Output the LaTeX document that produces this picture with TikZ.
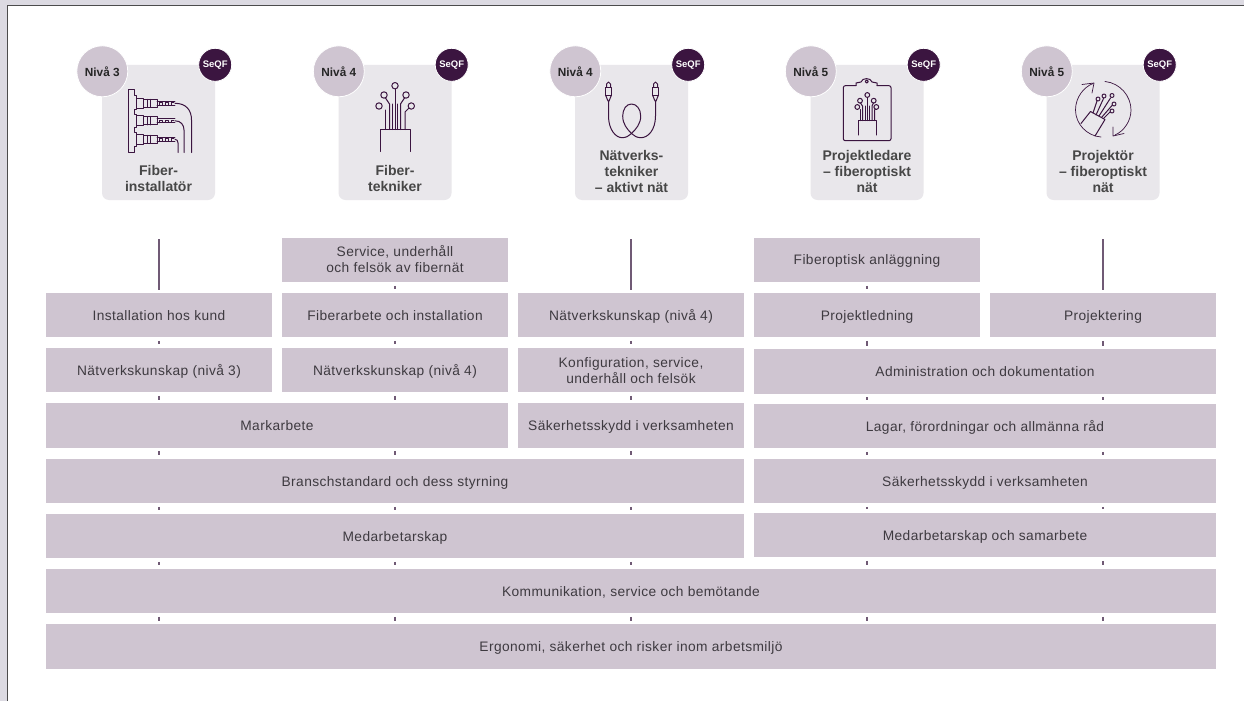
\documentclass[tikz,border=0pt]{standalone}
\usepackage{fontspec}
\setmainfont{Liberation Sans}
\newfontfamily\boxfont[LetterSpace=3.0]{Liberation Sans}
\usetikzlibrary{calc}
\definecolor{pagegrey}{HTML}{DCDAE2}
\definecolor{mauve}{HTML}{CFC5D1}
\definecolor{cardgrey}{HTML}{E9E7EB}
\definecolor{plum}{HTML}{3B1540}
\definecolor{tickplum}{HTML}{705A75}
\definecolor{inktext}{HTML}{3E3A40}
\tikzset{
	course/.style={fill=mauve, inner sep=0, minimum height=44.5pt, minimum width=226pt, align=center, text=inktext,
		text height=12.8pt, text depth=2.8pt, font=\boxfont\fontsize{13.75}{16}\selectfont},
	double/.style={text height=28.8pt, text depth=2.8pt},
	wide/.style={course, minimum width=462pt},
	full/.style={course, minimum width=1170pt},
	card/.style={fill=cardgrey, rounded corners=7pt, minimum width=113pt, minimum height=135pt, inner sep=0},
	cardtext/.style={anchor=south, align=center, inner sep=0, text=black!72, font=\bfseries\fontsize{14}{16}\selectfont},
	level/.style={circle, fill=mauve, draw=white, line width=0.8pt, minimum size=51pt, inner sep=0, text=black!85,
		font=\bfseries\fontsize{11.8}{13}\selectfont},
	seqf/.style={circle, fill=plum, draw=white, line width=0.8pt, minimum size=33pt, inner sep=0, text=white,
		font=\bfseries\fontsize{9.5}{11}\selectfont},
	tick/.style={draw=tickplum, line width=1.1pt, shorten <=3.5pt, shorten >=3.5pt},
	icon/.style={draw=plum, line width=1pt, line cap=round, line join=round},
}
\def\fibertip(#1,#2){\draw[icon] (#1, #2) circle (3.2pt);}
\def\plug(#1,#2){\draw[icon] (#1, #2) rectangle (#1+7, #2+10);
	\draw[icon] (#1+7, #2+1) rectangle (#1+21, #2+9);
	\draw[icon] (#1+11, #2+1) -- (#1+11, #2+9) (#1+14, #2+1) -- (#1+14, #2+9);
	\draw[icon, line width=0.8pt] (#1+21, #2+3) -- (#1+39, #2+3) (#1+21, #2+7) -- (#1+39, #2+7)
		(#1+23, #2+7) -- (#1+23, #2+4.5) -- (#1+26, #2+4.5) -- (#1+26, #2+7) -- (#1+29, #2+7) -- (#1+29, #2+4.5) -- (#1+32, #2+4.5) -- (#1+32, #2+7) -- (#1+35, #2+7) -- (#1+35, #2+4.5) -- (#1+38, #2+4.5);}

\begin{document}
\begin{tikzpicture}[x=1pt, y=-1pt]
	\useasboundingbox (0, 0) rectangle (1244, 701);
	%%%%% PAGE %%%%%
	\fill[pagegrey] (0, 0) rectangle (1244, 701);
	\fill[white] (7, 6) rectangle (1244, 701);
	\draw[black!70, line width=1pt] (7, 701) -- (7, 5.5) -- (1244, 5.5);

	%%%%% CARDS %%%%%
	\node[card] (cardA) at (158.5, 132.5) {};
	\node[card] (cardB) at (395, 132.5) {};
	\node[card] (cardC) at (631.5, 132.5) {};
	\node[card] (cardD) at (867, 132.5) {};
	\node[card] (cardE) at (1103, 132.5) {};

	\node[cardtext] (nameA) at ($(cardA.south)+(0,-8)$) {Fiber-\\installatör};
	\node[cardtext] (nameB) at ($(cardB.south)+(0,-8)$) {Fiber-\\tekniker};
	\node[cardtext] (nameC) at ($(cardC.south)+(0,-7)$) {Nätverks-\\tekniker\\– aktivt nät};
	\node[cardtext] (nameD) at ($(cardD.south)+(0,-7)$) {Projektledare\\– fiberoptiskt\\nät};
	\node[cardtext] (nameE) at ($(cardE.south)+(0,-7)$) {Projektör\\– fiberoptiskt\\nät};

	\node[level] (levelA) at ($(cardA.north west)+(0.5,6.5)$) {Nivå 3};
	\node[level] (levelB) at ($(cardB.north west)+(0.5,6.5)$) {Nivå 4};
	\node[level] (levelC) at ($(cardC.north west)+(0.5,6.5)$) {Nivå 4};
	\node[level] (levelD) at ($(cardD.north west)+(0.5,6.5)$) {Nivå 5};
	\node[level] (levelE) at ($(cardE.north west)+(0.5,6.5)$) {Nivå 5};

	\node[seqf] (seqfA) at (cardA.north east) {SeQF};
	\node[seqf] (seqfB) at (cardB.north east) {SeQF};
	\node[seqf] (seqfC) at (cardC.north east) {SeQF};
	\node[seqf] (seqfD) at (cardD.north east) {SeQF};
	\node[seqf] (seqfE) at (cardE.north east) {SeQF};

	%%%%% ICON A %%%%%
	\draw[icon] (128.7, 89.5) -- (134.5, 89.5) -- (134.5, 95) -- (136, 95) -- (136, 109.5) -- (134.5, 109.5) -- (134.5, 114) -- (136, 114) -- (136, 127.5)
		-- (134.5, 127.5) -- (134.5, 132) -- (136, 132) -- (136, 146) -- (134.5, 146) -- (134.5, 152.5) -- (128.7, 152.5) -- cycle;
	\plug(136,98.3)
	\plug(136,115.8)
	\plug(136,134.3)
	\draw[icon] (175, 103.3) .. controls (186, 103.3) and (191.5, 110) .. (191.5, 120) -- (191.5, 152.5);
	\draw[icon] (175, 120.8) .. controls (181, 120.8) and (184, 125) .. (184, 130) -- (184, 152.5);
	\draw[icon] (175, 139.3) .. controls (177, 139.3) and (178, 141) .. (178, 143) -- (178, 152.5);

	%%%%% ICON B %%%%%
	\draw[icon] (380, 151.5) -- (380, 129.5) -- (410, 129.5) -- (410, 151.5);
	\draw[icon] (385, 129.5) -- (385, 110);
	\draw[icon] (389.5, 129.5) -- (389.5, 104) -- (385.5, 98);
	\draw[icon] (395, 129.5) -- (395, 89);
	\draw[icon] (392.5, 129.5) -- (392.5, 104);
	\draw[icon] (397.5, 129.5) -- (397.5, 104);
	\draw[icon] (400.5, 129.5) -- (400.5, 104) -- (404.5, 98);
	\draw[icon] (405, 129.5) -- (405, 112) -- (409, 108);
	\fibertip(395,85.7)
	\fibertip(384,95)
	\fibertip(406,95)
	\fibertip(379,106)
	\fibertip(411.3,106)

	%%%%% ICON C %%%%%
	\draw[icon] (606.5, 87) -- (606.5, 84) -- (608.5, 82) -- (610.5, 84) -- (610.5, 87);
	\draw[icon] (605.5, 87) rectangle (611.5, 95);
	\draw[icon] (605.5, 95) -- (608, 101) -- (609, 101) -- (611.5, 95);
	\draw[icon] (653.5, 87) -- (653.5, 84) -- (655.5, 82) -- (657.5, 84) -- (657.5, 87);
	\draw[icon] (652.5, 87) rectangle (658.5, 95);
	\draw[icon] (652.5, 95) -- (655, 101) -- (656, 101) -- (658.5, 95);
	\draw[icon] (608.5, 101) -- (608.5, 116) .. controls (608.5, 130) and (616, 137.7) .. (622, 137.7)
		.. controls (626, 137.7) and (629, 136) .. (631.5, 133.5)
		.. controls (636, 129) and (640.7, 124) .. (640.7, 116)
		.. controls (640.7, 109) and (636.5, 104) .. (631.5, 104)
		.. controls (626.5, 104) and (622.7, 109) .. (622.7, 116)
		.. controls (622.7, 124) and (627, 129) .. (631.5, 133.5)
		.. controls (634, 136) and (637, 137.7) .. (641, 137.7)
		.. controls (648, 137.7) and (655.5, 130) .. (655.5, 116) -- (655.5, 101);

	%%%%% ICON D %%%%%
	\draw[icon, rounded corners=2pt] (856, 85.7) -- (843.3, 85.7) -- (843.3, 140.7) -- (891, 140.7) -- (891, 85.7) -- (877, 85.7);
	\draw[icon] (856, 85.7) -- (856, 83) -- (861, 82) .. controls (862, 77.5) and (871, 77.5) .. (872, 82) -- (877, 83) -- (877, 85.7);
	\draw[icon] (866.7, 81.5) circle (1.6pt);
	\draw[icon] (858, 135) -- (858, 120.7) -- (876.7, 120.7) -- (876.7, 135);
	\draw[icon] (867.3, 120.7) -- (867.3, 97.5);
	\draw[icon] (865, 120.7) -- (865, 106);
	\draw[icon] (869.6, 120.7) -- (869.6, 106);
	\draw[icon] (862.5, 120.7) -- (862.5, 106) -- (860.5, 103);
	\draw[icon] (872, 120.7) -- (872, 106) -- (873.5, 103);
	\draw[icon] (860, 120.7) -- (860, 109.5);
	\draw[icon] (874.5, 120.7) -- (874.5, 110) -- (875.5, 109);
	\draw[icon] (867.3, 95) circle (2.4pt);
	\draw[icon] (860, 100.7) circle (2.4pt);
	\draw[icon] (873.7, 100.7) circle (2.4pt);
	\draw[icon] (857.3, 107) circle (2.4pt);
	\draw[icon] (876.3, 107) circle (2.4pt);

	%%%%% ICON E %%%%%
	\draw[icon, line width=0.7pt] (1093, 83.5) .. controls (1084, 87) and (1075.5, 97) .. (1075.5, 110) .. controls (1075.5, 124) and (1087, 136) .. (1101, 137);
	\draw[icon, line width=0.7pt] (1105, 81.5) .. controls (1120, 83) and (1131, 96) .. (1131, 110) .. controls (1131, 121) and (1124, 131) .. (1115, 135);
	\draw[icon, line width=0.7pt] (1082, 84.5) -- (1094, 83) -- (1092, 93);
	\draw[icon, line width=0.7pt] (1113, 127) -- (1113, 136) -- (1124, 133.5);
	\draw[icon] (1081, 123.5) -- (1090.5, 111.5) -- (1105, 119.5) -- (1095, 136);
	\draw[icon] (1093, 113) -- (1097, 101);
	\draw[icon] (1096, 115) -- (1103.5, 98.5);
	\draw[icon] (1099, 116) -- (1110.5, 98);
	\draw[icon] (1101.5, 117.5) -- (1112, 105.5);
	\draw[icon] (1103.5, 118.5) -- (1110, 112);
	\draw[icon] (1098, 99) circle (2pt);
	\draw[icon] (1104, 96) circle (2pt);
	\draw[icon] (1112, 95.5) circle (2pt);
	\draw[icon] (1114, 104) circle (2pt);
	\draw[icon] (1112, 111) circle (2pt);

	%%%%% COURSES %%%%%
	\node[course, double] (service) at (395, 259.8) {Service, underhåll\\och felsök av fibernät};
	\node[course] (plant) at (867, 259.8) {Fiberoptisk anläggning};

	\coordinate (topA) at (159, 235.5);
	\coordinate (topC) at (631, 235.5);
	\coordinate (topE) at (1103, 235.5);

	\node[course] (install) at (159, 315) {Installation hos kund};
	\node[course] (fiberwork) at (395, 315) {Fiberarbete och installation};
	\node[course] (networkC) at (631, 315) {Nätverkskunskap (nivå 4)};
	\node[course] (leading) at (867, 315) {Projektledning};
	\node[course] (planning) at (1103, 315) {Projektering};

	\node[course] (networkA) at (159, 370) {Nätverkskunskap (nivå 3)};
	\node[course] (networkB) at (395, 370) {Nätverkskunskap (nivå 4)};
	\node[course, double] (config) at (631, 370) {Konfiguration, service,\\underhåll och felsök};
	\node[wide] (admin) at (985, 371.5) {Administration och dokumentation};

	\node[wide] (ground) at (277, 425.5) {Markarbete};
	\node[course] (securityC) at (631, 425.5) {Säkerhetsskydd i verksamheten};
	\node[wide] (laws) at (985, 426) {Lagar, förordningar och allmänna råd};

	\node[course, minimum width=698pt] (standard) at (395, 481) {Branschstandard och dess styrning};
	\node[wide] (securityD) at (985, 481) {Säkerhetsskydd i verksamheten};

	\node[course, minimum width=698pt] (teamwork) at (395, 536) {Medarbetarskap};
	\node[wide] (cooperate) at (985, 535) {Medarbetarskap och samarbete};

	\node[full] (comms) at (631, 591) {Kommunikation, service och bemötande};
	\node[full] (ergo) at (631, 646.5) {Ergonomi, säkerhet och risker inom arbetsmiljö};

	%%%%% TICKS %%%%%
	\draw[tick, shorten <=3.5pt, shorten >=3pt] (topA) -- (install.north);
	\draw[tick, shorten <=3.5pt, shorten >=3pt] (topC) -- (networkC.north);
	\draw[tick, shorten <=3.5pt, shorten >=3pt] (topE) -- (planning.north);

	\draw[tick] (service.south) -- (fiberwork.north);
	\draw[tick] (plant.south) -- (leading.north);

	\draw[tick] (install.south) -- (networkA.north);
	\draw[tick] (fiberwork.south) -- (networkB.north);
	\draw[tick] (networkC.south) -- (config.north);
	\draw[tick] (leading.south) -- (leading.south |- admin.north);
	\draw[tick] (planning.south) -- (planning.south |- admin.north);

	\draw[tick] (networkA.south) -- (networkA.south |- ground.north);
	\draw[tick] (networkB.south) -- (networkB.south |- ground.north);
	\draw[tick] (config.south) -- (securityC.north);
	\draw[tick] (leading.south |- admin.south) -- (leading.south |- laws.north);
	\draw[tick] (planning.south |- admin.south) -- (planning.south |- laws.north);

	\draw[tick] (networkA.south |- ground.south) -- (networkA.south |- standard.north);
	\draw[tick] (networkB.south |- ground.south) -- (networkB.south |- standard.north);
	\draw[tick] (securityC.south) -- (securityC.south |- standard.north);
	\draw[tick] (leading.south |- laws.south) -- (leading.south |- securityD.north);
	\draw[tick] (planning.south |- laws.south) -- (planning.south |- securityD.north);

	\draw[tick] (networkA.south |- standard.south) -- (networkA.south |- teamwork.north);
	\draw[tick] (networkB.south |- standard.south) -- (networkB.south |- teamwork.north);
	\draw[tick] (securityC.south |- standard.south) -- (securityC.south |- teamwork.north);
	\draw[tick] (leading.south |- securityD.south) -- (leading.south |- cooperate.north);
	\draw[tick] (planning.south |- securityD.south) -- (planning.south |- cooperate.north);

	\draw[tick] (networkA.south |- teamwork.south) -- (networkA.south |- comms.north);
	\draw[tick] (networkB.south |- teamwork.south) -- (networkB.south |- comms.north);
	\draw[tick] (securityC.south |- teamwork.south) -- (securityC.south |- comms.north);
	\draw[tick] (leading.south |- cooperate.south) -- (leading.south |- comms.north);
	\draw[tick] (planning.south |- cooperate.south) -- (planning.south |- comms.north);

	\draw[tick] (networkA.south |- comms.south) -- (networkA.south |- ergo.north);
	\draw[tick] (networkB.south |- comms.south) -- (networkB.south |- ergo.north);
	\draw[tick] (securityC.south |- comms.south) -- (securityC.south |- ergo.north);
	\draw[tick] (leading.south |- comms.south) -- (leading.south |- ergo.north);
	\draw[tick] (planning.south |- comms.south) -- (planning.south |- ergo.north);
\end{tikzpicture}
\end{document}
